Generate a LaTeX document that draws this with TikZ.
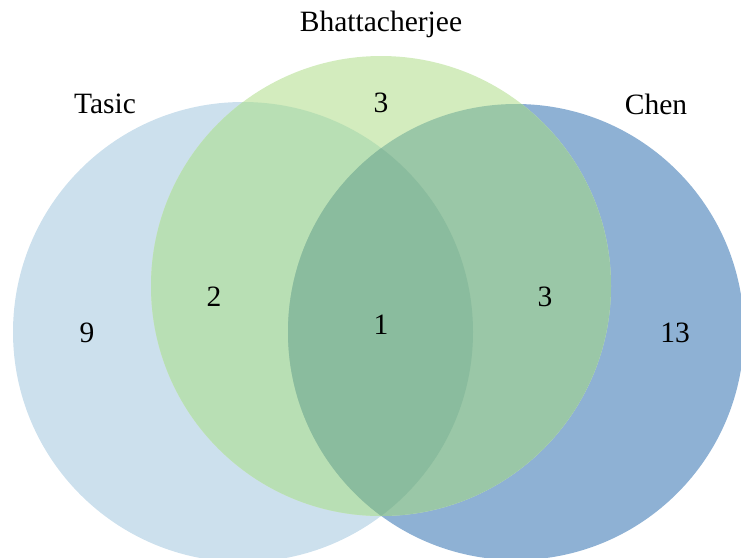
\documentclass[tikz,border=0pt]{standalone}
\usepackage{fontspec}
\setmainfont{Liberation Serif}
\definecolor{tasicC}{RGB}{204,224,237}
\definecolor{bhattC}{RGB}{211,236,190}
\definecolor{chenC}{RGB}{142,177,212}
\definecolor{tbC}{RGB}{184,223,180}
\definecolor{bcC}{RGB}{154,199,167}
\definecolor{tcC}{RGB}{140,184,180}
\definecolor{tbcC}{RGB}{138,188,158}
\begin{document}
\begin{tikzpicture}[x=1pt,y=-1pt,
  lbl/.style={font=\fontsize{29.5}{33}\selectfont, inner sep=0pt}]
\useasboundingbox (0,0) rectangle (741,557);
\begin{scope}
\clip (0,0) rectangle (741,557);
\def\T{(243,332) circle[radius=230pt]}
\def\B{(381,286) circle[radius=230pt]}
\def\C{(516,332) circle[radius=228pt]}
\fill[tasicC] \T;
\fill[chenC] \C;
\fill[bhattC] \B;
\begin{scope}\clip \T; \fill[tcC] \C; \end{scope}
\begin{scope}\clip \T; \fill[tbC] \B; \end{scope}
\begin{scope}\clip \C; \fill[bcC] \B; \end{scope}
\begin{scope}\clip \T; \clip \C; \fill[tbcC] \B; \end{scope}
\end{scope}
\node[lbl] (tasic) at (105,104) {Tasic};
\node[lbl] (bhatt) at (381,24) {Bhattacherjee};
\node[lbl] (chen) at (656,104) {Chen};
\node[lbl] (nB) at (381,103) {3};
\node[lbl] (nTB) at (214,297) {2};
\node[lbl] (nTBC) at (381,325) {1};
\node[lbl] (nBC) at (545,297) {3};
\node[lbl] (nT) at (87,333) {9};
\node[lbl] (nC) at (675,333) {13};
\end{tikzpicture}
\end{document}
